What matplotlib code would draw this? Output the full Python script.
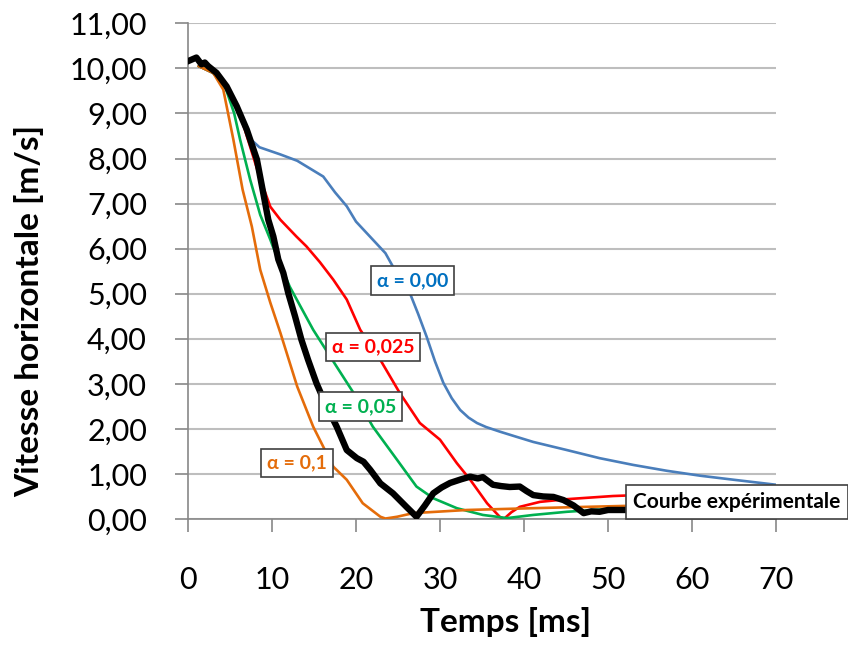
import matplotlib
matplotlib.use("Agg")
import matplotlib.pyplot as plt
from matplotlib.ticker import FuncFormatter, MultipleLocator

plt.rcParams['font.family'] = ['Lato', 'DejaVu Sans']

# courbe experimentale
t_exp = [0, 0.5, 1.0, 1.6, 2.0, 2.4, 3.4, 4.6, 5.8, 7.0, 8.2, 9.56, 10.16, 10.75, 11.35,
         11.94, 12.74, 13.5, 14.3, 15.3, 16.5, 17.7, 18.9, 20.1, 20.9, 21.7, 22.9, 24.4,
         26.0, 27.2, 28.2, 29.2, 30.2, 31.2, 32.5, 33.6, 34.5, 35.1, 36.3, 37.3, 38.3,
         39.5, 40.3, 41.1, 42.3, 43.5, 44.7, 45.9, 47.1, 48.0, 49.0, 50.0, 51.0, 52.0]
v_exp = [10.16, 10.2, 10.24, 10.09, 10.13, 10.05, 9.9, 9.6, 9.16, 8.64, 7.98, 6.64, 6.27, 5.76, 5.46,
         5.01, 4.5, 3.98, 3.53, 3.01, 2.5, 2.05, 1.53, 1.35, 1.27, 1.09, 0.79, 0.57,
         0.27, 0.05, 0.3, 0.57, 0.7, 0.8, 0.88, 0.94, 0.9, 0.93, 0.76, 0.73, 0.71,
         0.72, 0.62, 0.53, 0.5, 0.49, 0.42, 0.3, 0.13, 0.17, 0.16, 0.2, 0.2, 0.2]

# alpha = 0,00
t_a0 = [1.3, 3, 4.5, 5.5, 6.5, 7.5, 8.5, 11, 13, 16.1, 17.5, 18.9, 20, 22, 23.5, 24.4, 25.5,
        26.4, 27.4, 28.4, 29.4, 30.4, 31.4, 32.4, 33.4, 34.4, 35.5, 37.1, 39, 41.1, 45.1,
        49, 53, 57, 61, 65, 70]
v_a0 = [10.05, 9.9, 9.6, 9.25, 8.85, 8.42, 8.25, 8.09, 7.95, 7.6, 7.25, 6.94, 6.6, 6.2, 5.9, 5.6, 5.3,
        5.02, 4.55, 4.05, 3.5, 3.02, 2.68, 2.42, 2.25, 2.13, 2.04, 1.94, 1.83, 1.71, 1.53,
        1.35, 1.2, 1.07, 0.96, 0.87, 0.76]

# alpha = 0,025
t_a025 = [1.3, 3, 4.5, 5.5, 6.5, 7.5, 8.5, 9.8, 11, 12.9, 14.1, 15.7, 17.3, 18.9, 20.5, 22.9,
          25.2, 27.6, 30, 32, 33.6, 35.6, 37.1, 37.6, 38.5, 39.5, 41.9, 45.1, 50.6, 55]
v_a025 = [10.05, 9.9, 9.6, 9.25, 8.8, 8.2, 7.6, 6.93, 6.64, 6.27, 6.05, 5.7, 5.31, 4.87, 4.2, 3.53,
          2.8, 2.13, 1.76, 1.24, 0.87, 0.35, 0.05, 0.0, 0.15, 0.27, 0.38, 0.44, 0.51, 0.54]

# alpha = 0,05
t_a05 = [1.3, 3, 4.5, 5.5, 6.2, 7.4, 8.6, 9.8, 10.1, 12.1, 14.9, 17.7, 19.7, 22, 24.9, 27.2,
         29.2, 32, 35.1, 38, 41.1, 45.1, 50, 55]
v_a05 = [10.05, 9.9, 9.55, 9.0, 8.42, 7.53, 6.75, 6.2, 6.05, 5.16, 4.2, 3.38, 2.8, 2.05, 1.31, 0.72,
         0.46, 0.24, 0.09, 0.02, 0.09, 0.16, 0.22, 0.25]

# alpha = 0,1
t_a1 = [1.3, 3, 4.2, 5.4, 6.5, 7.6, 8.6, 9.8, 11, 13, 14.9, 17.3, 18.9, 20.8, 22.9, 23.5,
        24.9, 26.8, 33.2, 41.1, 47.5, 52]
v_a1 = [10.05, 9.9, 9.53, 8.42, 7.31, 6.49, 5.53, 4.8, 4.13, 2.94, 2.05, 1.16, 0.87, 0.35, 0.05, 0.01,
        0.05, 0.13, 0.2, 0.24, 0.27, 0.29]

fig = plt.figure(figsize=(8.48, 6.46), dpi=100)
ax = fig.add_axes([0.2217, 0.1966, 0.6934, 0.7673])

blue = '#4A7EBB'
red = '#FF0000'
green = '#00B050'
orange = '#E46C0A'

ax.plot(t_a0, v_a0, color=blue, lw=1.9, zorder=3)
ax.plot(t_a025, v_a025, color=red, lw=1.9, zorder=3)
ax.plot(t_a05, v_a05, color=green, lw=1.9, zorder=3)
ax.plot(t_a1, v_a1, color=orange, lw=1.9, zorder=3)
ax.plot(t_exp, v_exp, color='black', lw=4.6, zorder=4, solid_joinstyle='round')

ax.set_xlim(0, 70)
ax.set_ylim(0, 11)
ax.xaxis.set_major_locator(MultipleLocator(10))
ax.yaxis.set_major_locator(MultipleLocator(1))
ax.yaxis.set_major_formatter(FuncFormatter(lambda v, p: ('%.2f' % v).replace('.', ',')))

ax.grid(axis='y', color='#BEBEBE', lw=1.5)
ax.set_axisbelow(True)
for s in ['top', 'right']:
    ax.spines[s].set_visible(False)
for s in ['left', 'bottom']:
    ax.spines[s].set_color('#888888')
    ax.spines[s].set_linewidth(1.2)
ax.tick_params(axis='both', direction='out', length=9.5, width=1.2, color='#888888',
               labelsize=22, labelcolor='black')
ax.tick_params(axis='y', pad=20)
ax.tick_params(axis='x', pad=24)

ax.set_xlabel('Temps [ms]', fontsize=24, fontweight='bold')
ax.set_ylabel('Vitesse horizontale [m/s]', fontsize=24, fontweight='bold')
ax.xaxis.set_label_coords(0.54, -0.178)
ax.yaxis.set_label_coords(-0.245, 0.42)

box = dict(boxstyle='square,pad=0.3', fc='white', ec='#404040', lw=1.2)
ax.text(26.7, 5.29, 'α = 0,00', color='#0070C0', fontsize=14, fontweight='bold',
        ha='center', va='center', bbox=box, zorder=6)
ax.text(22.0, 3.82, 'α = 0,025', color=red, fontsize=14, fontweight='bold',
        ha='center', va='center', bbox=box, zorder=6)
ax.text(20.5, 2.49, 'α = 0,05', color=green, fontsize=14, fontweight='bold',
        ha='center', va='center', bbox=box, zorder=6)
ax.text(13.0, 1.24, 'α = 0,1', color=orange, fontsize=14, fontweight='bold',
        ha='center', va='center', bbox=box, zorder=6)
ax.text(53.0, 0.38, 'Courbe expérimentale', color='black', fontsize=15, fontweight='bold',
        ha='left', va='center', zorder=6, clip_on=False,
        bbox=dict(boxstyle='square,pad=0.35', fc='white', ec='#404040', lw=1.2))

fig.savefig('out.png', dpi=100)
